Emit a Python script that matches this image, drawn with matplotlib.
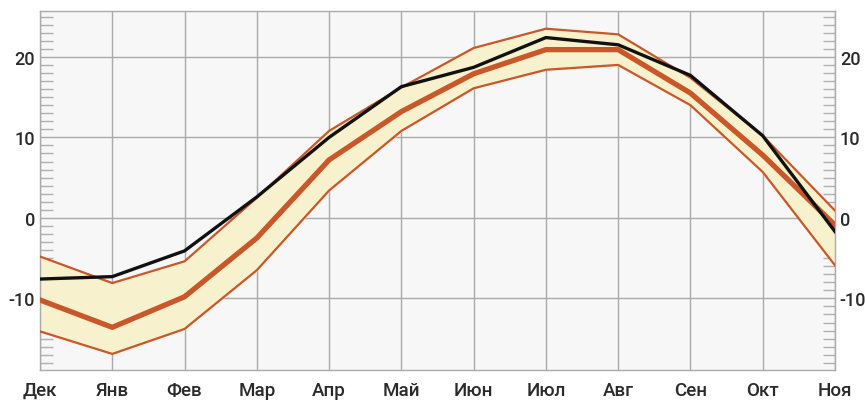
import numpy as np
import matplotlib
matplotlib.use('Agg')
import matplotlib.pyplot as plt
from matplotlib.ticker import MultipleLocator

months = ['Дек', 'Янв', 'Фев', 'Мар', 'Апр', 'Май', 'Июн', 'Июл', 'Авг', 'Сен', 'Окт', 'Ноя']

# температура текущего года
actual = [-7.6, -7.3, -4.1, 2.6, 10.0, 16.3, 18.7, 22.4, 21.5, 17.7, 10.2, -1.7]
# климатическая норма и её границы
norm_mean = [-10.2, -13.6, -9.8, -2.5, 7.2, 13.2, 17.9, 20.9, 20.9, 15.5, 7.8, -0.9]
norm_upper = [-4.8, -8.1, -5.4, 2.5, 10.8, 16.2, 21.1, 23.5, 22.8, 17.4, 10.2, 0.9]
norm_lower = [-14.1, -16.9, -13.8, -6.5, 3.4, 10.8, 16.1, 18.4, 19.0, 14.0, 5.7, -5.9]

x = np.arange(len(months))

plt.rcParams['font.family'] = ['Roboto', 'DejaVu Sans']
plt.rcParams['font.weight'] = 500
plt.rcParams['axes.unicode_minus'] = False

fig = plt.figure(figsize=(8.65, 4.02), dpi=100)
ax = fig.add_axes([40 / 865, 31 / 402, 795 / 865, 359 / 402])
ax.set_facecolor('#f7f7f7')

orange = '#c9572a'
ax.fill_between(x, norm_lower, norm_upper, color='#f7f2cd', zorder=2)
ax.plot(x, norm_lower, color=orange, lw=1.6, zorder=3)
ax.plot(x, norm_upper, color=orange, lw=1.6, zorder=3)
ax.plot(x, norm_mean, color=orange, lw=3.8, zorder=4)
ax.plot(x, actual, color='#111111', lw=2.4, zorder=5)

ax.set_xlim(0, len(months) - 1)
ax.set_ylim(-18.9, 25.7)
ax.set_xticks(x)
ax.set_xticklabels(months)
ax.set_yticks([-10, 0, 10, 20])
ax.yaxis.set_minor_locator(MultipleLocator(1))

ax.grid(True, which='major', color='#aaaaaa', lw=1.0, zorder=1)
ax.set_axisbelow(True)

for s in ax.spines.values():
    s.set_color('#aaaaaa')
    s.set_linewidth(1.0)

ax.tick_params(axis='x', length=0, pad=8, labelsize=13.5, colors='#2a2a2a')
ax.tick_params(axis='y', which='major', length=0, pad=3.5, labelsize=13,
               colors='#2a2a2a', left=True, right=True, labelleft=True, labelright=True)
ax.tick_params(axis='y', which='minor', direction='in', length=9, width=1.0,
               color='#b0b0b0', left=True, right=True)

fig.savefig('out.png', dpi=100)
